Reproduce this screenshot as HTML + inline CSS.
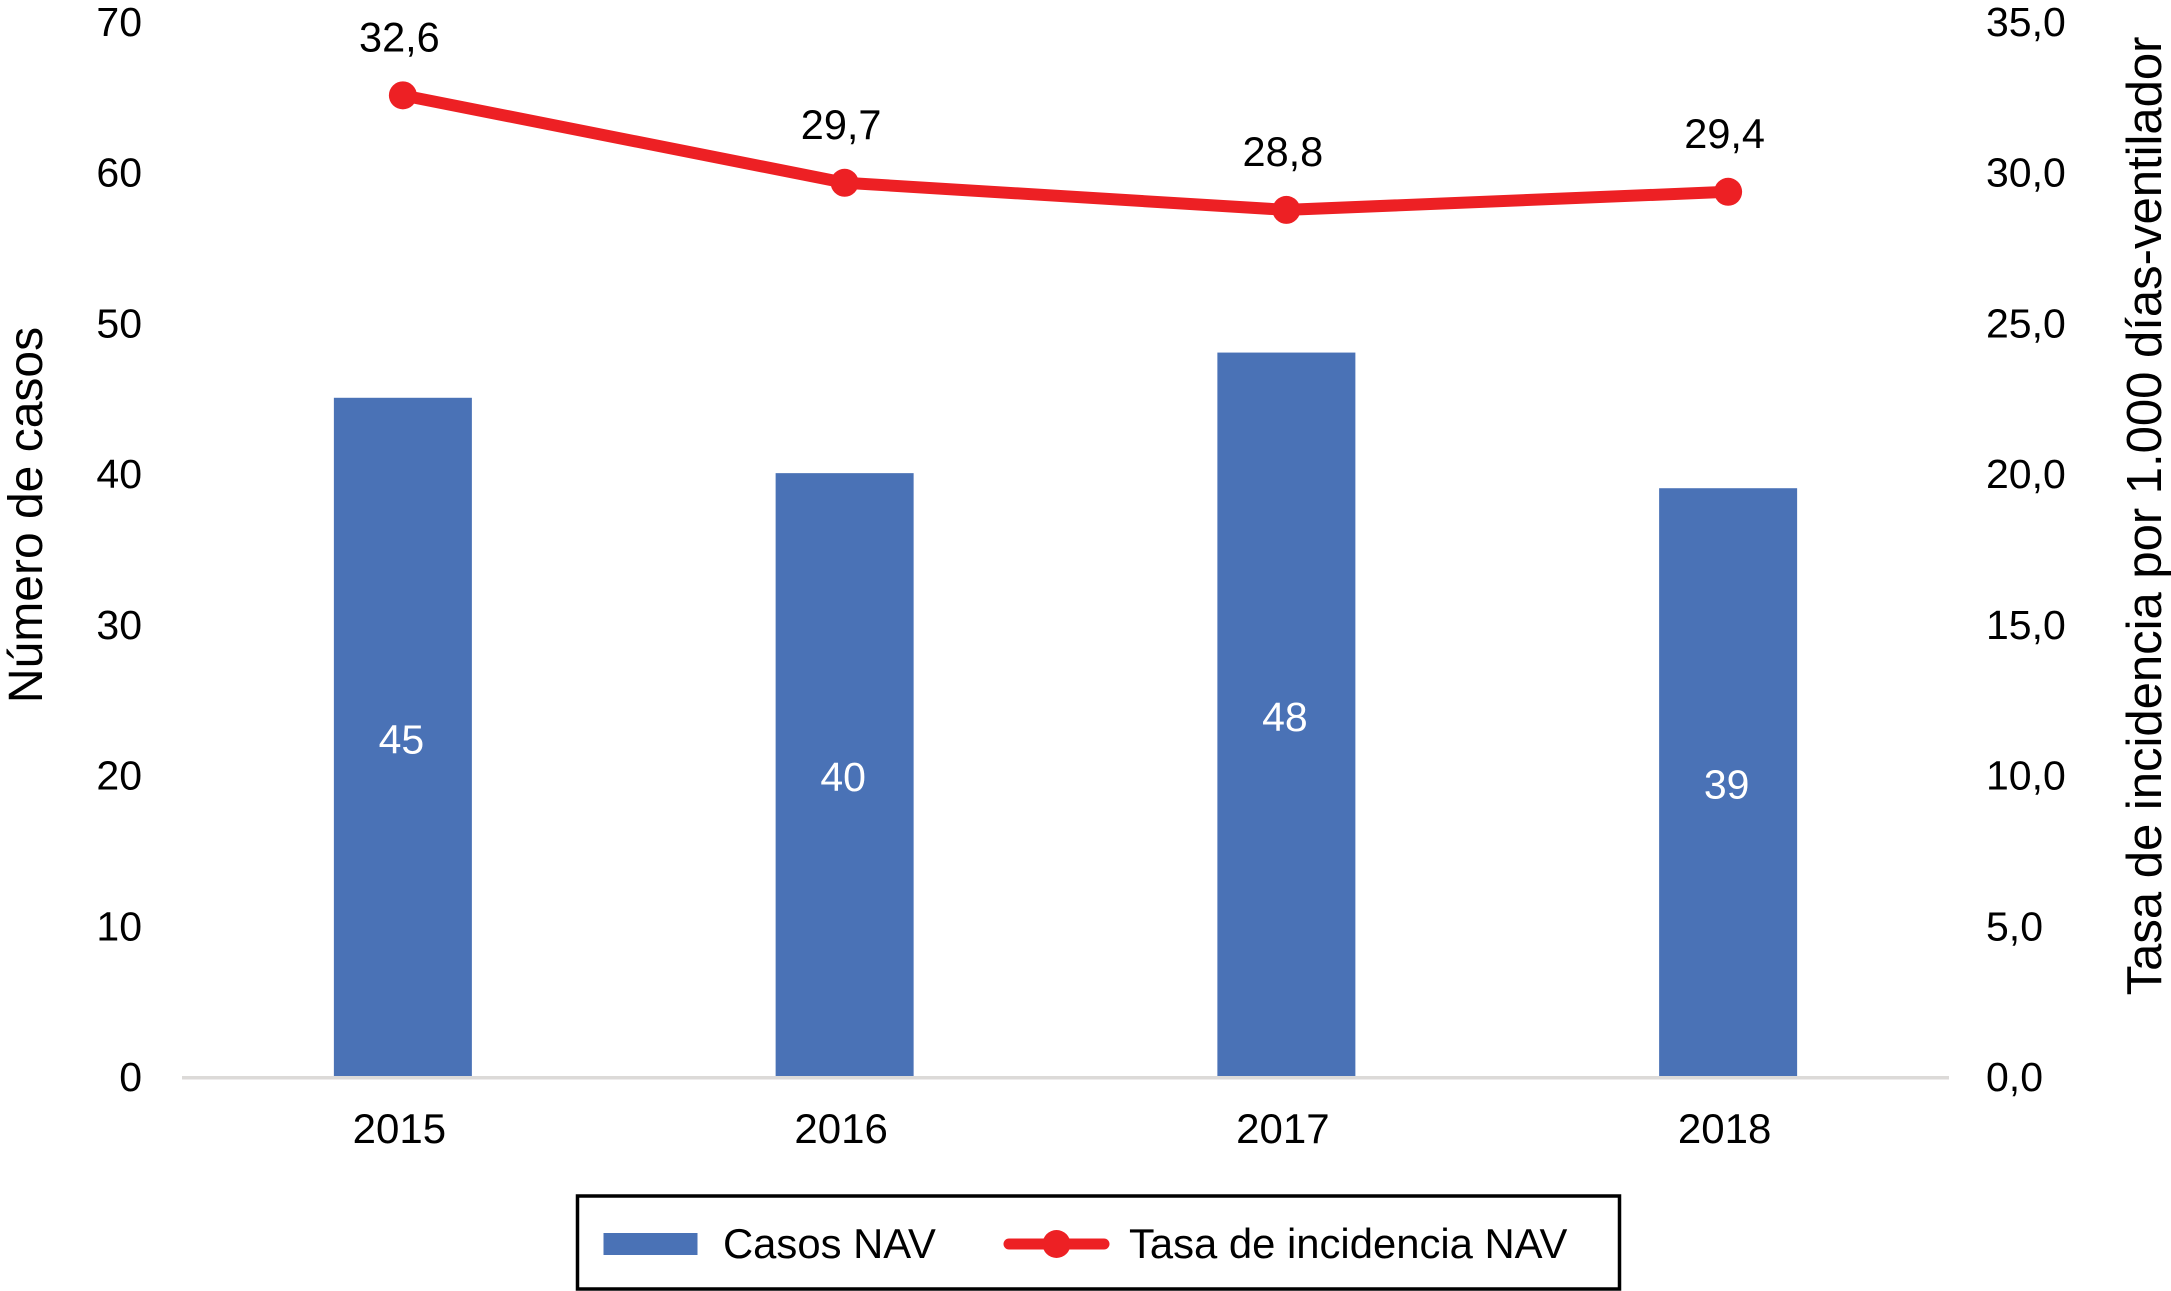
<!DOCTYPE html>
<html lang="es">
<head>
<meta charset="utf-8">
<title>Casos NAV y tasa de incidencia</title>
<style>
  html, body { margin: 0; padding: 0; background: #ffffff; }
  svg { display: block; }
  text { font-family: "Liberation Sans", Arial, sans-serif; fill: #000000; }
</style>
</head>
<body>
<svg id="chart" xmlns="http://www.w3.org/2000/svg" width="2171" height="1291" viewBox="0 0 2171 1291">
  <rect x="0" y="0" width="2171" height="1291" fill="#ffffff"/>
  <g id="bars"></g>
  <rect x="182" y="1076" width="1767" height="3.5" fill="#dcdad8"/>
  <g id="lineLayer"></g>
  <g id="leftTicks"></g>
  <g id="rightTicks"></g>
  <g id="xTicks"></g>
  <text transform="translate(42 515) rotate(-90)" text-anchor="middle" font-size="48">Número de casos</text>
  <text transform="translate(2161 516) rotate(-90)" text-anchor="middle" font-size="49">Tasa de incidencia por 1.000 días-ventilador</text>
  <g>
    <rect x="577.5" y="1196" width="1042" height="93" fill="#ffffff" stroke="#000000" stroke-width="3.5"/>
    <rect x="603.5" y="1233" width="94" height="22" fill="#4a72b6"/>
    <text x="723" y="1258" font-size="41.8">Casos NAV</text>
    <line x1="1009" y1="1244" x2="1104" y2="1244" stroke="#ed2024" stroke-width="11" stroke-linecap="round"/>
    <circle cx="1056.5" cy="1244" r="14" fill="#ed2024"/>
    <text x="1129" y="1258" font-size="41.8">Tasa de incidencia NAV</text>
  </g>
</svg>
<script>
const categories = ['2015', '2016', '2017', '2018'];
const casos = [45, 40, 48, 39];
const tasa = [32.6, 29.7, 28.8, 29.4];
const tasaLabels = ['32,6', '29,7', '28,8', '29,4'];
const leftTickValues = [0, 10, 20, 30, 40, 50, 60, 70];
const rightTickValues = [0, 5, 10, 15, 20, 25, 30, 35];

const NS = 'http://www.w3.org/2000/svg';
const plotLeft = 182, plotRight = 1949, plotBottom = 1076, plotTop = 21;
const barWidth = 138;
const lineShift = 2;

function xScale(i) {
  return plotLeft + (plotRight - plotLeft) * (i + 0.5) / categories.length;
}
function yLeft(v) {
  return plotBottom - (plotBottom - plotTop) * v / 70;
}
function yRight(v) {
  return plotBottom - (plotBottom - plotTop) * v / 35;
}
function svgEl(tag, attrs, text) {
  const el = document.createElementNS(NS, tag);
  for (const k in attrs) el.setAttribute(k, attrs[k]);
  if (text !== undefined) el.textContent = text;
  return el;
}
function fmt(v) {
  return v.toFixed(1).replace('.', ',');
}

const barsG = document.getElementById('bars');
casos.forEach(function (v, i) {
  const bar = svgEl('rect', { x: xScale(i) - barWidth / 2, y: yLeft(v), width: barWidth, height: plotBottom - yLeft(v), fill: '#4a72b6' });
  
  
  barsG.appendChild(bar);
  const label = svgEl('text', { x: xScale(i) - 1.5, y: (yLeft(v) + plotBottom) / 2 + 16.5, 'text-anchor': 'middle', 'font-size': 41, style: 'fill:#ffffff' }, String(v));
  
  
  barsG.appendChild(label);
});

const lineG = document.getElementById('lineLayer');
const linePoints = tasa.map(function (v, i) { return xScale(i) + ',' + (yRight(v) + lineShift); }).join(' ');
const polyline = svgEl('polyline', { points: linePoints, fill: 'none', stroke: '#ed2024', 'stroke-width': 12, 'stroke-linejoin': 'round' });


lineG.appendChild(polyline);
tasa.forEach(function (v, i) {
  const dot = svgEl('circle', { cx: xScale(i), cy: yRight(v) + lineShift, r: 14, fill: '#ed2024' });
  
  
  lineG.appendChild(dot);
  const label = svgEl('text', { x: xScale(i) - 3.5, y: yRight(v) - 42, 'text-anchor': 'middle', 'font-size': 41.5 }, tasaLabels[i]);
  
  
  lineG.appendChild(label);
});

const leftG = document.getElementById('leftTicks');
leftTickValues.forEach(function (v) {
  const t = svgEl('text', { x: 142, y: yLeft(v) + 15, 'text-anchor': 'end', 'font-size': 41 }, String(v));
  
  
  leftG.appendChild(t);
});

const rightG = document.getElementById('rightTicks');
rightTickValues.forEach(function (v) {
  const t = svgEl('text', { x: 1986, y: yRight(v) + 15, 'text-anchor': 'start', 'font-size': 41 }, fmt(v));
  
  
  rightG.appendChild(t);
});

const xG = document.getElementById('xTicks');
categories.forEach(function (c, i) {
  const t = svgEl('text', { x: xScale(i) - 3.5, y: 1143, 'text-anchor': 'middle', 'font-size': 42 }, c);
  
  
  xG.appendChild(t);
});
</script>
</body>
</html>
